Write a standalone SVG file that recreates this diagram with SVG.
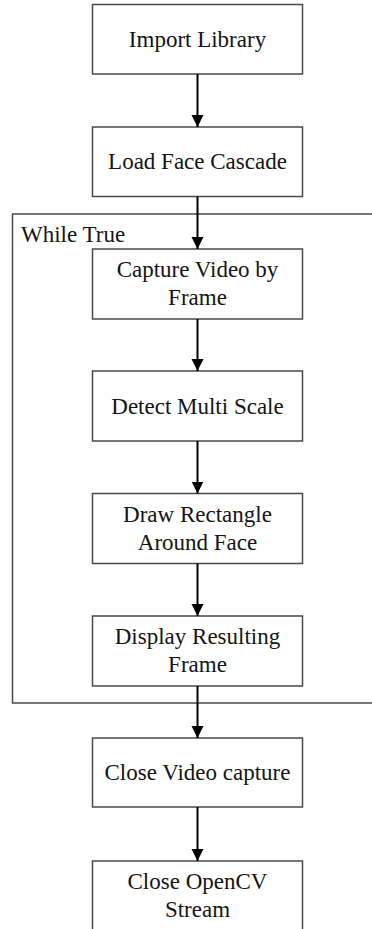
<svg xmlns="http://www.w3.org/2000/svg" width="372" height="929" viewBox="0 0 372 929">
  <style>
    .box { fill: #ffffff; stroke: #4a4a4a; stroke-width: 1.5; }
    .loop { fill: none; stroke: #4a4a4a; stroke-width: 1.5; }
    text { font-family: 'Liberation Serif', 'DejaVu Serif', 'Times New Roman', serif; font-size: 23px; fill: #141414; }
    .label { text-anchor: middle; }
    .edge { stroke: #000000; stroke-width: 2; fill: none; marker-end: url(#arrow); }
  </style>
  <defs>
    <marker id="arrow" markerUnits="userSpaceOnUse" markerWidth="13" markerHeight="13" refX="12" refY="6" orient="auto">
      <path d="M0,0 L12,6 L0,12 z" fill="#000000"/>
    </marker>
  </defs>
  <rect width="372" height="929" fill="#ffffff"/>

  <!-- loop frame -->
  <g id="while-true">
    <rect class="loop" x="12.5" y="214" width="380" height="489"/>
    <text x="21" y="242">While True</text>
  </g>

  <g id="import-library">
    <rect class="box" x="92.5" y="4.5" width="210" height="69.5"/>
    <text class="label" x="197.5" y="47">Import Library</text>
  </g>
  <g id="load-face-cascade">
    <rect class="box" x="92.5" y="127" width="210" height="69.5"/>
    <text class="label" x="197.5" y="169">Load Face Cascade</text>
  </g>
  <g id="capture-video">
    <rect class="box" x="92.5" y="249" width="210" height="70"/>
    <text class="label" x="197.5" y="277">Capture Video by</text>
    <text class="label" x="197.5" y="305">Frame</text>
  </g>
  <g id="detect-multi-scale">
    <rect class="box" x="92.5" y="371" width="210" height="70"/>
    <text class="label" x="197.5" y="413.5">Detect Multi Scale</text>
  </g>
  <g id="draw-rectangle">
    <rect class="box" x="92.5" y="493.5" width="210" height="70"/>
    <text class="label" x="197.5" y="521.5">Draw Rectangle</text>
    <text class="label" x="197.5" y="549.5">Around Face</text>
  </g>
  <g id="display-frame">
    <rect class="box" x="92.5" y="616" width="210" height="70"/>
    <text class="label" x="197.5" y="643.5">Display Resulting</text>
    <text class="label" x="197.5" y="671.5">Frame</text>
  </g>
  <g id="close-video-capture">
    <rect class="box" x="92.5" y="738" width="210" height="69"/>
    <text class="label" x="197.5" y="780">Close Video capture</text>
  </g>
  <g id="close-opencv-stream">
    <rect class="box" x="92.5" y="861" width="210" height="80"/>
    <text class="label" x="197.5" y="888.5">Close OpenCV</text>
    <text class="label" x="197.5" y="916.5">Stream</text>
  </g>

  <g id="connectors">
    <line class="edge" x1="197.5" y1="74" x2="197.5" y2="127"/>
    <line class="edge" x1="197.5" y1="196.5" x2="197.5" y2="249"/>
    <line class="edge" x1="197.5" y1="319" x2="197.5" y2="371"/>
    <line class="edge" x1="197.5" y1="441" x2="197.5" y2="493.5"/>
    <line class="edge" x1="197.5" y1="563.5" x2="197.5" y2="616"/>
    <line class="edge" x1="197.5" y1="686" x2="197.5" y2="738"/>
    <line class="edge" x1="197.5" y1="807" x2="197.5" y2="861"/>
  </g>
</svg>
